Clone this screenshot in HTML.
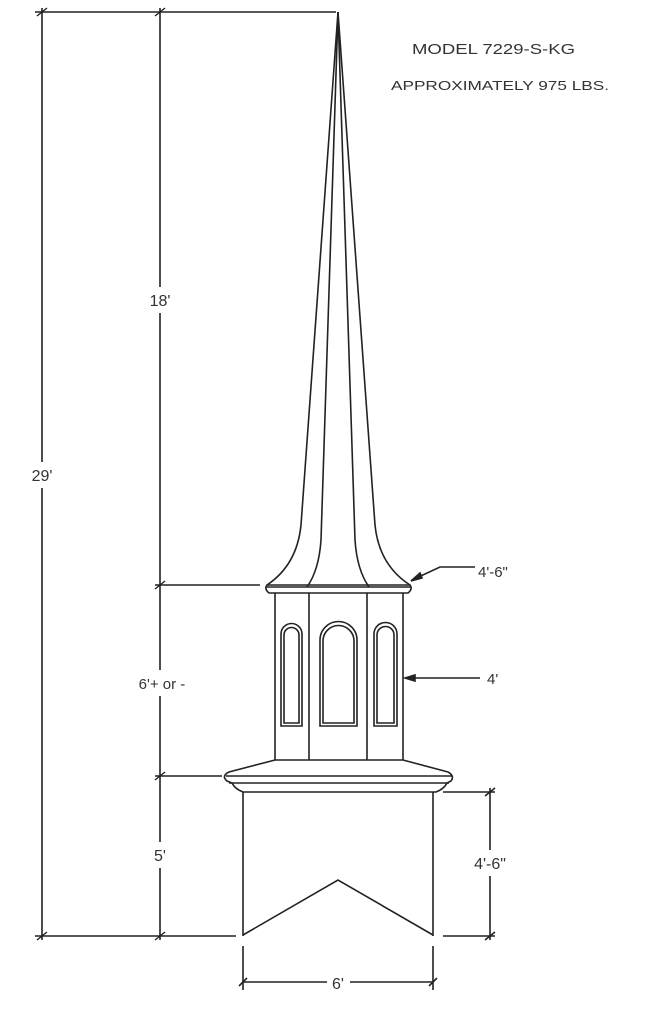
<!DOCTYPE html>
<html><head><style>
html,body{margin:0;padding:0;background:#fff}
svg{display:block}
text{font-family:"Liberation Sans",sans-serif;fill:#333}
</style></head><body>
<svg width="651" height="1024" viewBox="0 0 651 1024" xmlns="http://www.w3.org/2000/svg">
<g stroke="#222" fill="none" stroke-width="1.6">
<!-- left dims -->
<line x1="42" y1="8" x2="42" y2="462"/><line x1="42" y1="488" x2="42" y2="940"/>
<line x1="160" y1="8" x2="160" y2="287"/><line x1="160" y1="313" x2="160" y2="670"/>
<line x1="160" y1="696" x2="160" y2="842"/><line x1="160" y1="868" x2="160" y2="940"/>
<line x1="35" y1="12" x2="336" y2="12"/>
<line x1="155" y1="585" x2="260" y2="585"/>
<line x1="155" y1="776" x2="222" y2="776"/>
<line x1="35" y1="936" x2="236" y2="936"/>
<g stroke-width="1.4">
<line x1="37" y1="16" x2="47" y2="8"/><line x1="155" y1="16" x2="165" y2="8"/>
<line x1="155" y1="589" x2="165" y2="581"/><line x1="155" y1="780" x2="165" y2="772"/>
<line x1="37" y1="940" x2="47" y2="932"/><line x1="155" y1="940" x2="165" y2="932"/>
</g>
<!-- spire -->
<path d="M338 12 L301 525 Q297 565 267 585"/>
<path d="M338 12 L375 525 Q379 565 410 585"/>
<path d="M338 12 L321 540 Q319 570 307 587"/>
<path d="M338 12 L355 540 Q357 570 369 587"/>
<!-- cap ledge -->
<path d="M267 585 L410 585 Q413 589 408 593 L269 593 Q264 589 267 585 Z"/>
<line x1="267" y1="587" x2="410" y2="587"/>
<!-- cupola body -->
<line x1="275" y1="593" x2="275" y2="760"/>
<line x1="403" y1="593" x2="403" y2="760"/>
<line x1="309" y1="593" x2="309" y2="760"/>
<line x1="367" y1="593" x2="367" y2="760"/>
<!-- windows -->
<path d="M281 726 V634 A10.5 10.5 0 0 1 302 634 V726 Z"/>
<path d="M284 723 V635 A7.5 7.5 0 0 1 299 635 V723 Z"/>
<path d="M320 726 V640 A18.5 18.5 0 0 1 357 640 V726 Z"/>
<path d="M323 723 V641 A15.5 15.5 0 0 1 354 641 V723 Z"/>
<path d="M374 726 V634 A11.5 11.5 0 0 1 397 634 V726 Z"/>
<path d="M377 723 V635 A8.5 8.5 0 0 1 394 635 V723 Z"/>
<!-- base ledge -->
<path d="M275 760 L403 760 L448 772 Q455 776 451 781 L447 783 Q444 789 436 792 L243 792 Q235 789 232 783 L227 781 Q221 776 229 772 Z"/>
<line x1="226" y1="776" x2="452" y2="776"/>
<line x1="229" y1="783" x2="449" y2="783"/>
<!-- base box -->
<line x1="243" y1="792" x2="243" y2="936"/>
<line x1="433" y1="792" x2="433" y2="936"/>
<polyline points="243,935 338,880 433,935"/>
<!-- right dim -->
<line x1="443" y1="792" x2="495" y2="792"/>
<line x1="443" y1="936" x2="495" y2="936"/>
<line x1="490" y1="788" x2="490" y2="850"/>
<line x1="490" y1="876" x2="490" y2="940"/>
<line x1="485" y1="796" x2="495" y2="788"/><line x1="485" y1="940" x2="495" y2="932"/>
<!-- bottom dim -->
<line x1="243" y1="946" x2="243" y2="990"/>
<line x1="433" y1="946" x2="433" y2="990"/>
<line x1="243" y1="982" x2="327" y2="982"/>
<line x1="350" y1="982" x2="433" y2="982"/>
<line x1="239" y1="986" x2="247" y2="978"/><line x1="429" y1="986" x2="437" y2="978"/>
<!-- leaders -->
<polyline points="412,580 440,567 475,567"/>
<polygon points="411,581 420,573 422,578" fill="#222"/>
<line x1="406" y1="678" x2="480" y2="678"/>
<polygon points="405,678 415,675 415,681" fill="#222"/>
</g>
<text x="412" y="54" font-size="15" textLength="163" lengthAdjust="spacingAndGlyphs">MODEL 7229-S-KG</text>
<text x="391" y="90" font-size="13" textLength="218" lengthAdjust="spacingAndGlyphs">APPROXIMATELY 975 LBS.</text>
<text x="160" y="306" font-size="16" text-anchor="middle">18'</text>
<text x="42" y="481" font-size="16" text-anchor="middle">29'</text>
<text x="162" y="689" font-size="15" text-anchor="middle">6'+ or -</text>
<text x="160" y="861" font-size="16" text-anchor="middle">5'</text>
<text x="478" y="577" font-size="15">4'-6"</text>
<text x="487" y="684" font-size="15">4'</text>
<text x="490" y="869" font-size="16" text-anchor="middle">4'-6"</text>
<text x="338" y="989" font-size="16" text-anchor="middle">6'</text>
</svg>
</body></html>
